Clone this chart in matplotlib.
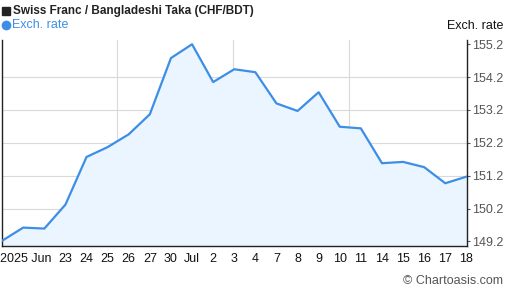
import matplotlib
matplotlib.use("Agg")
import matplotlib.pyplot as plt
from matplotlib.lines import Line2D
import numpy as np

# ------------------------------------------------------------
# Data: CHF/BDT daily rate, Jun 18 - Jul 18 2025
# ------------------------------------------------------------
dates = ["Jun 18", "Jun 19", "Jun 20", "Jun 23", "Jun 24", "Jun 25", "Jun 26", "Jun 27",
         "Jun 30", "Jul 1", "Jul 2", "Jul 3", "Jul 4", "Jul 7", "Jul 8", "Jul 9",
         "Jul 10", "Jul 11", "Jul 14", "Jul 15", "Jul 16", "Jul 17", "Jul 18"]
rates = [149.22, 149.62, 149.59, 150.32, 151.77, 152.07, 152.46, 153.07,
         154.78, 155.20, 154.05, 154.44, 154.35, 153.40, 153.17, 153.74,
         152.69, 152.64, 151.58, 151.62, 151.46, 150.97, 151.17]

tick_pos = [1.1, 3, 4, 5, 6, 7, 8, 9, 10, 11, 12, 13, 14, 15, 16, 17, 18, 19, 20, 21, 22]
tick_labels = ["2025 Jun", "23", "24", "25", "26", "27", "30", "Jul", "2", "3", "4",
               "7", "8", "9", "10", "11", "14", "15", "16", "17", "18"]
y_ticks = [149.2, 150.2, 151.2, 152.2, 153.2, 154.2, 155.2]

# ------------------------------------------------------------
# Plot
# ------------------------------------------------------------
plt.rcParams["font.family"] = ["Liberation Sans", "DejaVu Sans"]
W, H = 507, 288
fig = plt.figure(figsize=(W / 100, H / 100), dpi=100)
ax = fig.add_axes([1.5 / W, (H - 246) / H, (467 - 1.5) / W, (246 - 40) / H])

x = np.arange(len(rates))
line_c = "#3d8ee6"
ax.fill_between(x, rates, 140, color="#eaf5ff", zorder=1)
ax.plot(x, rates, color=line_c, linewidth=1.6, zorder=3)

ax.set_xlim(-0.03, len(rates) - 1 + 0.03)
ax.set_ylim(149.06, 155.33)

# gridlines
for gx in [5.46, 10.96, 16.46]:
    ax.axvline(gx, color="#d9d9d9", linewidth=0.8, zorder=0)
for gy in y_ticks[1:-1]:
    ax.axhline(gy, color="#d9d9d9", linewidth=0.8, zorder=0)

ax.set_xticks(tick_pos)
ax.set_xticklabels(tick_labels, fontsize=9, color="#111111")
ax.tick_params(axis="x", length=0, pad=5)

ax.yaxis.tick_right()
ax.set_yticks(y_ticks)
ax.set_yticklabels([f"{v:.1f}" for v in y_ticks], fontsize=9, color="#555555")
ax.tick_params(axis="y", length=2, pad=2, color="#555555")

for s in ["left", "bottom", "right"]:
    ax.spines[s].set_color("#222222")
    ax.spines[s].set_linewidth(1.0)
ax.spines["top"].set_visible(False)

# title / legend markers
fig.add_artist(Line2D([6 / W], [1 - 11 / H], marker="s", markersize=6.2, color="#222222",
                      linestyle="none", transform=fig.transFigure))
fig.add_artist(Line2D([5.5 / W], [1 - 25 / H], marker="o", markersize=6, color=line_c,
                      linestyle="none", transform=fig.transFigure))

fig.text(13 / W, 1 - 11 / H, "Swiss Franc / Bangladeshi Taka (CHF/BDT)", fontsize=8.5,
         fontweight="bold", color="#222222", va="center", ha="left")
fig.text(12 / W, 1 - 25 / H, "Exch. rate", fontsize=9, color=line_c, va="center", ha="left")
fig.text(503 / W, 1 - 26 / H, "Exch. rate", fontsize=9, color="#111111", va="center", ha="right")
fig.text(503 / W, 1 - 281 / H, "© Chartoasis.com", fontsize=9, color="#555555",
         va="center", ha="right")

fig.savefig("out.png", dpi=100)
